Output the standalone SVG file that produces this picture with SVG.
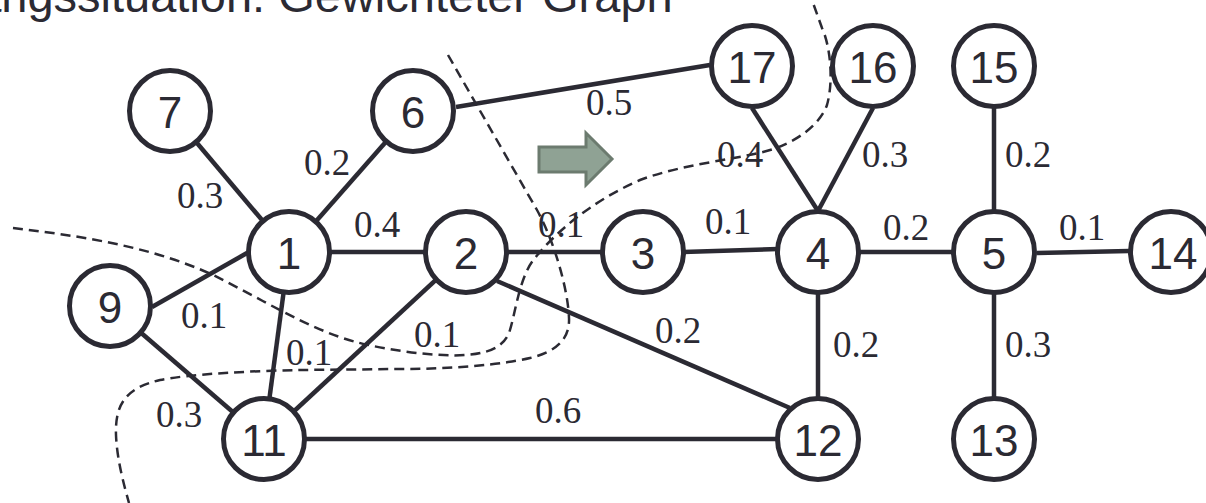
<svg xmlns="http://www.w3.org/2000/svg" width="1206" height="503" viewBox="0 0 1206 503">
<style>
.edge{stroke:#2b2a33;stroke-width:4.5;fill:none;stroke-linecap:butt}
.node circle{fill:#ffffff;stroke:#2b2a33;stroke-width:5}
.node text{font-family:"Liberation Sans",Arial,sans-serif;font-size:44px;fill:#2b2a33;text-anchor:middle}
.w{font-family:"Liberation Serif","Times New Roman",serif;font-size:37px;fill:#2b2a33;text-anchor:middle}
.cut{stroke:#2b2a33;stroke-width:2.5;fill:none;stroke-dasharray:10 6}
.title{font-family:"Liberation Sans",Arial,sans-serif;font-size:47px;fill:#2b2a33}
</style>
<rect width="1206" height="503" fill="#ffffff"/>
<text class="title" x="-132" y="12">Ausgangssituation: Gewichteter Graph</text>
<g id="connectors">
<line class="edge" x1="170" y1="111" x2="289" y2="252"/>
<line class="edge" x1="413" y1="111" x2="289" y2="252"/>
<line class="edge" x1="289" y1="252" x2="466" y2="252"/>
<line class="edge" x1="152" y1="307" x2="247" y2="253"/>
<line class="edge" x1="110" y1="306" x2="264" y2="439"/>
<line class="edge" x1="289" y1="252" x2="264" y2="439"/>
<line class="edge" x1="466" y1="252" x2="264" y2="439"/>
<line class="edge" x1="466" y1="252" x2="643" y2="252"/>
<line class="edge" x1="497" y1="281" x2="790" y2="408"/>
<line class="edge" x1="264" y1="439" x2="818" y2="439"/>
<line class="edge" x1="683" y1="252" x2="778" y2="249"/>
<line class="edge" x1="818" y1="252" x2="994" y2="252"/>
<line class="edge" x1="818" y1="252" x2="818" y2="439"/>
<line class="edge" x1="994" y1="66" x2="994" y2="252"/>
<line class="edge" x1="994" y1="252" x2="994" y2="439"/>
<line class="edge" x1="1037" y1="253" x2="1129" y2="251"/>
<line class="edge" x1="752" y1="108" x2="818" y2="211"/>
<line class="edge" x1="873" y1="108" x2="818" y2="211"/>
<line class="edge" x1="456" y1="107" x2="710" y2="65"/>
</g>
<g id="nodes">
<g id="node1" class="node"><circle cx="289" cy="252" r="40.5"/><text x="289" y="269">1</text></g>
<g id="node2" class="node"><circle cx="466" cy="252" r="40.5"/><text x="466" y="269">2</text></g>
<g id="node3" class="node"><circle cx="643" cy="252" r="40.5"/><text x="643" y="269">3</text></g>
<g id="node4" class="node"><circle cx="818" cy="252" r="40.5"/><text x="818" y="269">4</text></g>
<g id="node5" class="node"><circle cx="994" cy="252" r="40.5"/><text x="994" y="269">5</text></g>
<g id="node6" class="node"><circle cx="413" cy="111" r="40.5"/><text x="413" y="128">6</text></g>
<g id="node7" class="node"><circle cx="170" cy="111" r="40.5"/><text x="170" y="128">7</text></g>
<g id="node9" class="node"><circle cx="110" cy="306" r="40.5"/><text x="110" y="323">9</text></g>
<g id="node11" class="node"><circle cx="264" cy="439" r="40.5"/><text x="264" y="456">11</text></g>
<g id="node12" class="node"><circle cx="818" cy="439" r="40.5"/><text x="818" y="456">12</text></g>
<g id="node13" class="node"><circle cx="994" cy="439" r="40.5"/><text x="994" y="456">13</text></g>
<g id="node14" class="node"><circle cx="1171" cy="252" r="40.5"/><text x="1173" y="269">14</text></g>
<g id="node15" class="node"><circle cx="994" cy="66" r="40.5"/><text x="994" y="83">15</text></g>
<g id="node16" class="node"><circle cx="873" cy="66" r="40.5"/><text x="873" y="83">16</text></g>
<g id="node17" class="node"><circle cx="752" cy="66" r="40.5"/><text x="752" y="83">17</text></g>
</g>
<g id="weights">
<text class="w" x="200" y="208">0.3</text>
<text class="w" x="327" y="175">0.2</text>
<text class="w" x="377" y="237">0.4</text>
<text class="w" x="609" y="115">0.5</text>
<text class="w" x="740" y="167">0.4</text>
<text class="w" x="885" y="167">0.3</text>
<text class="w" x="1028" y="167">0.2</text>
<text class="w" x="561" y="237">0.1</text>
<text class="w" x="728" y="234">0.1</text>
<text class="w" x="906" y="240">0.2</text>
<text class="w" x="1082" y="240">0.1</text>
<text class="w" x="678" y="343">0.2</text>
<text class="w" x="856" y="357">0.2</text>
<text class="w" x="1028" y="357">0.3</text>
<text class="w" x="204" y="328">0.1</text>
<text class="w" x="309" y="365">0.1</text>
<text class="w" x="437" y="347">0.1</text>
<text class="w" x="179" y="427">0.3</text>
<text class="w" x="558" y="423">0.6</text>
</g>
<g id="cuts">
<path class="cut" d="M 13,228 C 80,236 150,246 213,275 C 260,298 310,330 356,342 C 390,351 440,357 466,355 C 495,353 506,343 510,330 C 516,310 520,275 535,258 C 555,233 590,202 640,180 C 680,165 730,160 763,152 C 795,144 820,125 827,105 C 834,80 830,45 822,28 L 812,0"/>
<path class="cut" d="M 448,55 L 537,210 C 555,243 568,290 569,318 C 570,340 555,352 530,358 C 500,365 450,369 400,369 L 300,370 C 250,371 190,374 160,380 C 125,388 115,405 116,435 C 117,460 124,485 129,503"/>
</g>
<polygon id="arrow" points="539,147 586,147 586,133 612,159 586,185 586,172 539,172" fill="#8fa294" stroke="#6c7b6f" stroke-width="3"/>
</svg>
